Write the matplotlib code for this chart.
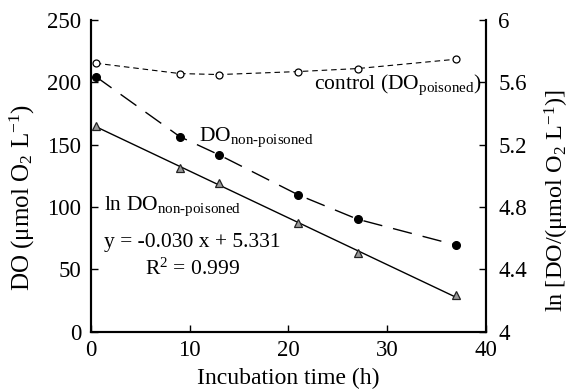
import matplotlib
matplotlib.use("Agg")
import matplotlib.pyplot as plt
import numpy as np

plt.rcParams["font.family"] = "Liberation Serif"
plt.rcParams["mathtext.fontset"] = "custom"
plt.rcParams["mathtext.rm"] = "Liberation Serif"
plt.rcParams["mathtext.it"] = "Liberation Serif:italic"
plt.rcParams["font.size"] = 16

# incubation times (h)
time_h = [0.5, 9, 13, 21, 27, 37]
# control, poisoned DO (umol O2/L)
do_poisoned = [215.3, 207.0, 206.2, 208.6, 211.0, 218.5]
# non-poisoned DO (umol O2/L)
do_nonpoisoned = [204.6, 156.5, 141.8, 109.8, 90.3, 69.5]
# ln DO non-poisoned (right axis)
ln_do = [5.32, 5.053, 4.953, 4.697, 4.505, 4.235]
fit_slope = -0.030
fit_intercept = 5.331

fig = plt.figure(figsize=(5.71, 3.90), dpi=100)
ax = fig.add_axes([0.159, 0.149, 0.692, 0.800])
ax2 = ax.twinx()

ax.plot(time_h, do_poisoned, color="black", lw=0.8, ls=(0, (5, 3.5)),
        marker="o", ms=5, mfc="white", mec="black", mew=0.9)
ax.plot(time_h, do_nonpoisoned, color="black", lw=1.0, ls=(0, (14, 8)),
        marker="o", ms=5.5, mfc="black", mec="black")

fit_x = np.array([time_h[0], time_h[-1]])
ax2.plot(fit_x, fit_intercept + fit_slope * fit_x, color="black", lw=1.0)
ax2.plot(time_h, ln_do, ls="none", marker="^", ms=5.5, mfc="#999999",
         mec="#222222", mew=0.9)

ax.set_xlim(0, 40)
ax.set_ylim(0, 250)
ax2.set_ylim(4, 6)
ax.set_xticks([0, 10, 20, 30, 40])
ax.set_yticks([0, 50, 100, 150, 200, 250])
ax2.set_yticks([4, 4.4, 4.8, 5.2, 5.6, 6])
ax2.set_yticklabels(["4", "4.4", "4.8", "5.2", "5.6", "6"])

for a in (ax, ax2):
    a.tick_params(direction="in", length=5, width=1.0, labelsize=16.5, pad=7)
    for s in a.spines.values():
        s.set_linewidth(1.5)
ax.tick_params(axis="x", pad=6)
ax2.tick_params(axis="y", pad=9)
ax.spines["top"].set_visible(False)
ax2.spines["top"].set_visible(False)

ax.set_xlabel("Incubation time (h)", fontsize=17, labelpad=5)
ax.set_ylabel(r"DO ($\mathrm{\mu}$mol O$_2$ L$^{-1}$)", fontsize=18)
ax2.set_ylabel(r"ln [DO/($\mathrm{\mu}$mol O$_2$ L$^{-1}$)]", fontsize=17.5)
ax.yaxis.set_label_coords(-0.135, 0.43)
ax2.yaxis.set_label_coords(1.143, 0.42)

ax.text(39.6, 198, r"control (DO$_{\text{poisoned}}$)", ha="right", va="center", fontsize=15.5)
ax.text(11.0, 156, r"DO$_{\text{non-poisoned}}$", ha="left", va="center", fontsize=15.5)
ax.text(1.3, 101, r"ln DO$_{\text{non-poisoned}}$", ha="left", va="center", fontsize=15.5)
ax.text(1.3, 72, "y = -0.030 x + 5.331", ha="left", va="center", fontsize=15.5)
ax.text(5.5, 50, r"R$^2$ = 0.999", ha="left", va="center", fontsize=15.5)

fig.savefig("out.png", dpi=100)
